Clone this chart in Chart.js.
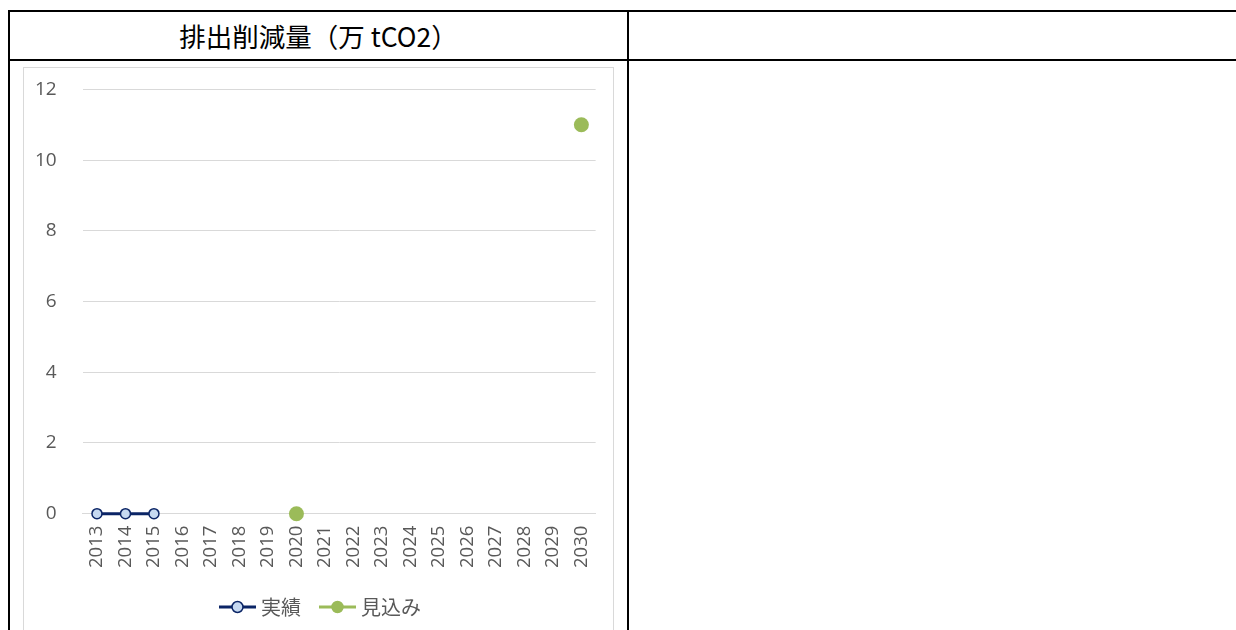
<!DOCTYPE html>
<html>
<head>
<meta charset="utf-8">
<script src="https://cdn.jsdelivr.net/npm/chart.js@4"></script>
<style>
    body { margin: 0; background: #fff; overflow: hidden; }
    .line { position: absolute; background: #000; }
    .title {
        position: absolute; left: 10px; top: 12px; width: 617px; height: 47px;
        display: flex; align-items: center; justify-content: center;
        font-family: "Noto Sans CJK JP", sans-serif; font-size: 26.5px; color: #000;
    }
    .box {
        position: absolute; left: 23px; top: 67px; width: 589px; height: 620px;
        border: 1px solid #d9d9d9; overflow: hidden;
    }
    .box canvas { position: absolute; left: -15px; top: -16px; }
</style>
</head>
<body>
<div class="line" style="left:8px; top:10px; width:1228px; height:2px;"></div>
<div class="line" style="left:8px; top:59px; width:1228px; height:2px;"></div>
<div class="line" style="left:8px; top:10px; width:2px; height:640px;"></div>
<div class="line" style="left:627px; top:10px; width:2px; height:640px;"></div>
<div class="title">排出削減量（万 tCO2）</div>
<div class="box">
    <canvas id="canvas" width="607" height="575" style="width:607px;height:575px;"></canvas>
</div>
<script>
const years = ['2013', '2014', '2015', '2016', '2017', '2018', '2019', '2020', '2021',
    '2022', '2023', '2024', '2025', '2026', '2027', '2028', '2029', '2030'];
const actual = [0, 0, 0, null, null, null, null, null, null,
    null, null, null, null, null, null, null, null, null];
const forecast = [null, null, null, null, null, null, null, 0, null,
    null, null, null, null, null, null, null, null, 11];
const yTicks = [0, 2, 4, 6, 8, 10, 12];

const navy = '#0b2566';
const lightBlue = '#c6d9f1';
const green = '#9bbb59';
const gray = '#595959';

// legend icons: short line with a marker in the middle
function legendIcon(lineColor, fill, border) {
    var c = document.createElement('canvas');
    c.width = 52;
    c.height = 14;
    var ctx = c.getContext('2d');
    ctx.strokeStyle = lineColor;
    ctx.lineWidth = 3;
    ctx.beginPath();
    ctx.moveTo(14, 7);
    ctx.lineTo(51, 7);
    ctx.stroke();
    ctx.beginPath();
    ctx.arc(32.5, 7, 5.5, 0, Math.PI * 2);
    ctx.fillStyle = fill;
    ctx.fill();
    ctx.lineWidth = 1.5;
    ctx.strokeStyle = border;
    ctx.stroke();
    return c;
}
const icons = [legendIcon(navy, lightBlue, navy), legendIcon(green, green, green)];

// the canvas sits a bit left of the frame, so move the legend back to the frame's middle
const legendNudge = {
    id: 'legendNudge',
    afterLayout: function (chart) {
        chart.legend.left += 11;
        chart.legend.right += 11;
    },
};

const data = {
    labels: years,
    datasets: [
        {
            label: '実績',
            data: actual,
            borderColor: navy,
            backgroundColor: lightBlue,
            borderWidth: 3,
            pointRadius: 5,
            pointBorderWidth: 1.5,
            pointBorderColor: navy,
            pointBackgroundColor: lightBlue,
            spanGaps: false,
            clip: false,
        },
        {
            label: '見込み',
            data: forecast,
            borderColor: green,
            backgroundColor: green,
            borderWidth: 3,
            pointRadius: 7.5,
            pointBorderWidth: 0,
            pointBackgroundColor: green,
            spanGaps: false,
            clip: false,
        },
    ],
};

const config = {
    type: 'line',
    data: data,
    plugins: [legendNudge],
    options: {
        responsive: false,
        animation: false,
        layout: { padding: { left: 0, right: 15, top: 4, bottom: 0 } },
        scales: {
            x: {
                offset: true,
                grid: { display: false, drawTicks: false },
                border: { display: true, color: '#d9d9d9', width: 1 },
                ticks: {
                    color: gray,
                    font: { family: 'Open Sans', size: 18.5 },
                    minRotation: 90,
                    maxRotation: 90,
                    padding: 12,
                    autoSkip: false,
                },
                afterFit: function (axis) {
                    axis.height += 7;
                },
            },
            y: {
                min: yTicks[0],
                max: yTicks[yTicks.length - 1],
                afterBuildTicks: function (axis) {
                    axis.ticks = yTicks.map(function (v) { return { value: v }; });
                },
                grid: { color: '#d9d9d9', drawTicks: false },
                border: { display: false },
                ticks: {
                    color: gray,
                    font: { family: 'Open Sans', size: 19 },
                    padding: 26,
                },
            },
        },
        plugins: {
            tooltip: { enabled: false },
            legend: {
                position: 'bottom',
                labels: {
                    usePointStyle: true,
                    pointStyleWidth: 40,
                    padding: 10,
                    color: gray,
                    font: { family: 'Noto Sans CJK JP', size: 20 },
                    generateLabels: function (chart) {
                        var items = Chart.defaults.plugins.legend.labels.generateLabels(chart);
                        items.forEach(function (item, i) {
                            item.pointStyle = icons[i];
                        });
                        return items;
                    },
                },
            },
        },
    },
};

const canvas = document.getElementById('canvas');
const chart = new Chart(canvas, config);
</script>
</body>
</html>
